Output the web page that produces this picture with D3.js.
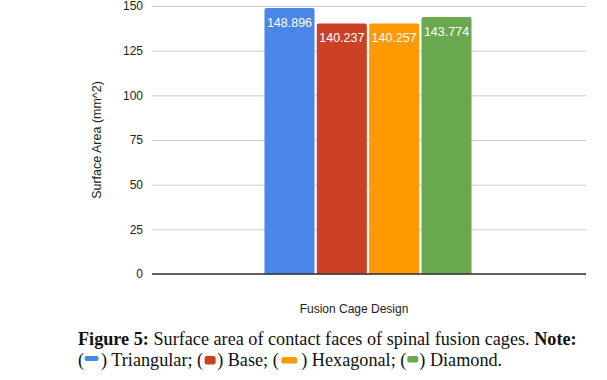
<!DOCTYPE html>
<html><head><meta charset="utf-8">
<script src="https://cdn.jsdelivr.net/npm/d3@7"></script>
<style>
html,body{margin:0;padding:0;background:#fff;}
svg{display:block;}
text{white-space:pre;}
</style>
</head><body>
<script>
const categories = [""];
const seriesNames = ["Triangular", "Base", "Hexagonal", "Diamond"];
const seriesValues = [148.896, 140.237, 140.257, 143.774];
const seriesColors = ["#4a86e8", "#cc4125", "#ff9900", "#6aa84f"];
const yTicks = [0, 25, 50, 75, 100, 125, 150];
const xTitle = "Fusion Cage Design";
const yTitle = "Surface Area (mm^2)";

(function () {
const W = 607, H = 380;
const mLeft = 152, mRight = 586, mTop = 6, mBottom = 274;

const svg = d3.select("body").append("svg").attr("width", W).attr("height", H);

const y = d3.scaleLinear().domain([0, 150]).range([mBottom, mTop]);
const x0 = d3.scaleBand().domain(categories).range([mLeft, mRight]).paddingInner(0).paddingOuter(0.548);
const x1 = d3.scaleBand().domain(seriesNames).range([0, x0.bandwidth()]).paddingInner(0.044);

// gridlines
const yAxis = d3.axisLeft(y).tickValues(yTicks).tickSize(-(mRight - mLeft)).tickPadding(9).tickFormat(d3.format("d"));
const gy = svg.append("g").attr("transform", `translate(${mLeft},0)`).call(yAxis);
gy.select(".domain").remove();
gy.selectAll(".tick line").attr("stroke", "#cccccc").attr("stroke-width", 1);
gy.selectAll(".tick text").attr("fill", "#222").style("font-family", "Arial, 'Liberation Sans', sans-serif").style("font-size", "12px");

// bars
const gBars = svg.append("g").attr("transform", `translate(${x0(categories[0]) - 1},0)`);
const r = 2;
gBars.selectAll("path.bar").data(seriesNames.map((n, i) => ({n, v: seriesValues[i], c: seriesColors[i]})))
  .join("path").attr("class", "bar")
  .attr("fill", d => d.c)
  .attr("d", d => {
    const xa = x1(d.n), w = x1.bandwidth(), ya = y(d.v), yb = y(0);
    return `M${xa},${yb}V${ya + r}Q${xa},${ya} ${xa + r},${ya}H${xa + w - r}Q${xa + w},${ya} ${xa + w},${ya + r}V${yb}Z`;
  });
gBars.selectAll("text.val").data(seriesNames.map((n, i) => ({n, v: seriesValues[i]})))
  .join("text").attr("class", "val")
  .attr("x", d => x1(d.n) + x1.bandwidth() / 2)
  .attr("y", d => y(d.v) + 19)
  .attr("text-anchor", "middle")
  .attr("fill", "#fff")
  .style("font-family", "Arial, 'Liberation Sans', sans-serif")
  .style("font-size", "12.5px")
  .text(d => d3.format(".3f")(d.v));

// baseline
svg.append("line").attr("x1", mLeft).attr("x2", mRight).attr("y1", y(0)).attr("y2", y(0))
  .attr("stroke", "#333").attr("stroke-width", 1.5);

// axis titles
svg.append("text").attr("x", 354).attr("y", 313).attr("text-anchor", "middle")
  .attr("fill", "#222").style("font-family", "Arial, 'Liberation Sans', sans-serif").style("font-size", "12px")
  .text(xTitle);
svg.append("text").attr("transform", "translate(101,140) rotate(-90)").attr("text-anchor", "middle")
  .attr("fill", "#222").style("font-family", "Arial, 'Liberation Sans', sans-serif").style("font-size", "12.5px")
  .text(yTitle);

// caption
const capFont = "'Liberation Serif', 'Times New Roman', serif";
const capSize = 18.2;
const l1 = svg.append("text").attr("x", 78).attr("y", 345).attr("fill", "#111")
  .style("font-family", capFont).style("font-size", capSize + "px");
l1.append("tspan").attr("font-weight", "bold").text("Figure 5:");
l1.append("tspan").text(" Surface area of contact faces of spinal fusion cages. ");
l1.append("tspan").attr("font-weight", "bold").text("Note:");

// line 2 with swatches: [slot width, x offset, swatch w, swatch h, swatch top]
const swatchLayout = [[17, 0.5, 14, 5, 356], [14, 1.5, 11, 8.5, 356], [22.5, 2.5, 16, 6.5, 357], [13, 1, 11, 6.5, 356]];
let cx = 78;
const by = 366;
function addText(t) {
  const tn = svg.append("text").attr("x", cx).attr("y", by).attr("fill", "#111")
    .style("font-family", capFont).style("font-size", capSize + "px").text(t);
  cx += tn.node().getComputedTextLength();
}
seriesNames.forEach((n, i) => {
  addText(i === 0 ? "(" : " (");
  const [slot, off, sw, sh, st] = swatchLayout[i];
  svg.append("rect").attr("x", cx + off).attr("y", st)
    .attr("width", sw).attr("height", sh).attr("rx", 2).attr("fill", seriesColors[i]);
  cx += slot;
  addText(") " + n + (i < seriesNames.length - 1 ? ";" : "."));
});
})();
</script>
</body></html>
